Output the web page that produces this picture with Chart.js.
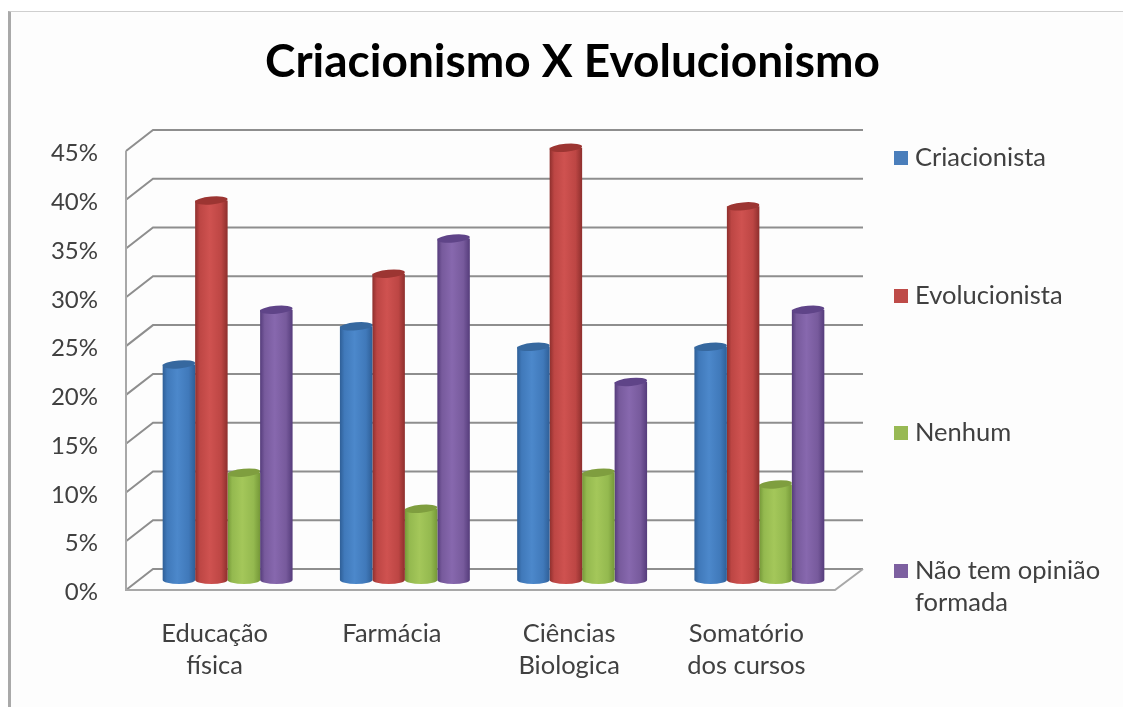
<!DOCTYPE html>
<html>
<head>
<meta charset="utf-8">
<style>
  html, body { margin: 0; padding: 0; background: #fff; overflow: hidden; }
  #frame { position: absolute; left: 8px; top: 11px; right: 0; bottom: 0; background: #fdfdfd;
           border-left: 3px solid #a9a9a9; border-top: 1px solid #cfcfcf; }
  #wrap { position: absolute; left: 0; top: 0; width: 1123px; height: 707px; filter: blur(0.6px); }
</style>
<script src="https://cdn.jsdelivr.net/npm/chart.js@4"></script>
</head>
<body>
<div id="frame"></div>
<div id="wrap"><canvas id="chart" width="1123" height="707"></canvas></div>
<script>
const titleText = 'Criacionismo X Evolucionismo';
const categories = [['Educação', 'física'], 'Farmácia', ['Ciências', 'Biologica'], ['Somatório', 'dos cursos']];
const criacionista = [22.1, 26.0, 23.9, 23.9];
const evolucionista = [38.9, 31.4, 44.3, 38.3];
const nenhum = [11.0, 7.3, 11.0, 9.8];
const semOpiniao = [27.7, 35.0, 20.3, 27.7];
const fontName = 'Lato, "Open Sans", sans-serif';
const textColor = '#404040';

// dark edge, soft middle, bright band, dark cap
const shades = [
  { swatch: '#4a7ebb', edge: '#2f5f97', mid: '#4079ba', light: '#4c88cb', cap: '#36689f' },
  { swatch: '#be4b48', edge: '#8e2f2d', mid: '#bd4644', light: '#cf5250', cap: '#9c3532' },
  { swatch: '#98b954', edge: '#759838', mid: '#94b94f', light: '#a4c75a', cap: '#7f9e3f' },
  { swatch: '#7d60a0', edge: '#553c7b', mid: '#775a9c', light: '#8768ae', cap: '#5f4488' }
];

const catPct = 0.733;
const depthX = 27, depthY = 21;
const shiftX = 13, shiftY = 10;

function barFill(ctx) {
  const s = shades[ctx.datasetIndex];
  const chart = ctx.chart;
  if (ctx.type !== 'data' || !chart.chartArea) return s.swatch;
  const x = chart.scales.x;
  const w = chart.chartArea.width / categories.length * catPct / 4;
  const c = x.getPixelForValue(ctx.dataIndex) + (ctx.datasetIndex - 1.5) * w;
  if (!isFinite(c) || !isFinite(w)) return s.swatch;
  const g = chart.ctx.createLinearGradient(c - w / 2, 0, c + w / 2, 0);
  g.addColorStop(0, s.edge);
  g.addColorStop(0.14, s.mid);
  g.addColorStop(0.45, s.light);
  g.addColorStop(0.8, s.mid);
  g.addColorStop(1, s.edge);
  return g;
}

function makeSet(label, data) {
  return { label, data, backgroundColor: barFill, borderWidth: 0, clip: false,
           categoryPercentage: catPct, barPercentage: 1 };
}

// back wall, floor and the side lines of the fake 3D box
const wall = {
  id: 'wall',
  beforeDatasetsDraw(chart) {
    const { ctx, chartArea: a, scales: { y } } = chart;
    ctx.save();
    ctx.lineWidth = 2;
    ctx.strokeStyle = '#8e8e8e';
    y.ticks.forEach(t => {
      const py = y.getPixelForValue(t.value);
      ctx.beginPath();
      ctx.moveTo(a.left, py);
      ctx.lineTo(a.left + depthX, py - depthY);
      ctx.lineTo(a.right + depthX + 1, py - depthY);
      ctx.stroke();
    });
    ctx.strokeStyle = '#a8a8a8';
    ctx.beginPath();
    ctx.moveTo(a.left, a.top);
    ctx.lineTo(a.left, a.bottom);
    ctx.lineTo(a.right, a.bottom);
    ctx.lineTo(a.right + depthX + 1, a.bottom - depthY);
    ctx.stroke();
    ctx.restore();
    // bars stand in the middle of the floor depth
    ctx.save();
    ctx.translate(shiftX, shiftY * -1);
  },
  afterDatasetDraw(chart, args) {
    const { ctx } = chart;
    const s = shades[args.index];
    args.meta.data.forEach(el => {
      const rx = el.width / 2;
      ctx.save();
      ctx.fillStyle = el.options.backgroundColor;
      ctx.beginPath();
      ctx.ellipse(el.x, el.base, rx, 4, 0, 0, Math.PI);
      ctx.fill();
      ctx.fillStyle = s.cap;
      ctx.beginPath();
      ctx.ellipse(el.x, el.y, rx, 4, -0.09, 0, Math.PI * 2);
      ctx.fill();
      ctx.restore();
    });
  },
  afterDatasetsDraw(chart) {
    chart.ctx.restore();
  }
};

// legend is spread over the chart height and wraps, the built in one does not
const sideLegend = {
  id: 'sideLegend',
  afterDraw(chart) {
    const { ctx } = chart;
    const rows = [158, 296, 433, 571];
    ctx.save();
    ctx.font = '25.5px ' + fontName;
    ctx.textBaseline = 'middle';
    ctx.textAlign = 'left';
    chart.data.datasets.forEach((d, i) => {
      ctx.fillStyle = shades[i].swatch;
      ctx.fillRect(894, rows[i] - 7, 14, 14);
      ctx.fillStyle = textColor;
      const lines = [];
      let line = '';
      d.label.split(' ').forEach(word => {
        const next = line ? line + ' ' + word : word;
        if (ctx.measureText(next).width > 200 && line) { lines.push(line); line = word; } else line = next;
      });
      lines.push(line);
      lines.forEach((l, k) => ctx.fillText(l, 915, rows[i] + k * 32));
    });
    ctx.restore();
  }
};

new Chart(document.getElementById('chart'), {
  type: 'bar',
  data: {
    labels: categories,
    datasets: [
      makeSet('Criacionista', criacionista),
      makeSet('Evolucionista', evolucionista),
      makeSet('Nenhum', nenhum),
      makeSet('Não tem opinião formada', semOpiniao)
    ]
  },
  options: {
    responsive: false,
    animation: false,
    layout: { padding: { left: 22 } },
    plugins: {
      legend: { display: false },
      tooltip: { enabled: false },
      title: {
        display: true,
        text: titleText,
        color: '#000',
        font: { family: fontName, size: 46, weight: 'bold', lineHeight: '55px' },
        padding: { top: 35, bottom: 61 }
      }
    },
    scales: {
      x: {
        grid: { display: false },
        border: { display: false },
        ticks: { color: textColor, padding: 20, maxRotation: 0, autoSkip: false,
                 font: { family: fontName, size: 25.5, lineHeight: '32px' } },
        afterFit(scale) { scale.height = 117; }
      },
      y: {
        min: 0,
        max: 45,
        grid: { display: false },
        border: { display: false },
        ticks: { stepSize: 5, color: textColor, padding: 20,
                 font: { family: fontName, size: 24 },
                 callback: v => v + '%' },
        afterFit(scale) { scale.width = 104; },
        // labels in the picture sit a little under their tick
        afterUpdate(scale) {
          if (scale.labelsMoved) return;
          scale.labelsMoved = true;
          const drawLabels = scale.drawLabels;
          scale.drawLabels = function (area) {
            this.ctx.save();
            this.ctx.translate(0, 2.5);
            drawLabels.call(this, area);
            this.ctx.restore();
          };
        }
      },
      side: {
        position: 'right',
        grid: { display: false },
        border: { display: false },
        ticks: { display: false },
        afterFit(scale) { scale.width = 288; }
      }
    }
  },
  plugins: [wall, sideLegend]
});
</script>
</body>
</html>
